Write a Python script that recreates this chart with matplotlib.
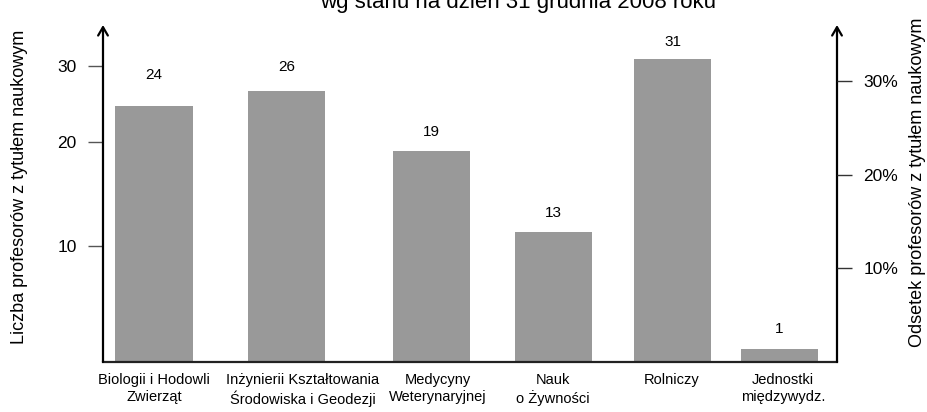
import matplotlib.pyplot as plt

plt.rcParams['font.family'] = ['Liberation Sans', 'DejaVu Sans']

# wydzialy (kategorie)
categories = ['Biologii i Hodowli\nZwierząt',
              'Inżynierii Kształtowania\nŚrodowiska i Geodezji',
              'Medycyny\nWeterynaryjnej',
              'Nauk\no Żywności',
              'Rolniczy',
              'Jednostki\nmiędzywydz.']
# liczba profesorow (etykiety nad slupkami)
counts = [24, 26, 19, 13, 31, 1]
# odsetek profesorow (wysokosc slupkow, %)
percent = [27.4, 29.0, 22.5, 13.9, 32.4, 1.4]
# lewa os - etykiety w miejscach z oryginalu
left_tick_pos = [12.4, 23.5, 31.6]
left_tick_labels = ['10', '20', '30']
right_ticks = [10, 20, 30]
right_tick_labels = ['10%', '20%', '30%']

# uklad (polozenia slupkow i podpisow nie sa rownomierne w oryginale)
bar_x = [0.417, 1.50, 2.686, 3.68, 4.656, 5.527]
label_x = [0.417, 1.63, 2.74, 3.68, 4.65, 5.56]
label_off = [31, 24, 19, 19, 17, 20]

W, H = 927, 412
fig = plt.figure(figsize=(W / 100, H / 100), dpi=100)
ax = fig.add_axes([103 / W, 1 - 362 / H, (837 - 103) / W, (362 - 25) / H])

ax.bar(bar_x, percent, width=0.63, color='#999999', zorder=2)
ax.set_xlim(0, 6)
ax.set_ylim(0, 36)

for x, p, c, off in zip(bar_x, percent, counts, label_off):
    ax.annotate(str(c), (x, p), xytext=(0, off * 0.72), textcoords='offset points',
                ha='center', va='center', fontsize=11)

ax.set_xticks(label_x)
ax.set_xticklabels(categories, fontsize=10.5, linespacing=1.25)
ax.tick_params(axis='x', length=0, pad=8)

ax.set_yticks(left_tick_pos)
ax.set_yticklabels(left_tick_labels, fontsize=12.5)
ax.tick_params(axis='y', length=11, width=1, color='#555555', pad=8)

ax2 = ax.twinx()
ax2.set_ylim(0, 36)
ax2.set_yticks(right_ticks)
ax2.set_yticklabels(right_tick_labels, fontsize=12.5)
ax2.tick_params(axis='y', length=11, width=1, color='#333333', pad=8)

for a in (ax, ax2):
    for s in ('top', 'left', 'right'):
        a.spines[s].set_visible(False)
ax2.spines['bottom'].set_visible(False)
ax.spines['bottom'].set_linewidth(1.6)
ax.spines['bottom'].set_color('#222222')

# osie ze strzalkami
for xa in (0, 1):
    ax.annotate('', xy=(xa, 1.0), xytext=(xa, 0), xycoords='axes fraction',
                arrowprops=dict(arrowstyle='->,head_length=0.6,head_width=0.35',
                                lw=1.6, color='black', shrinkA=0, shrinkB=0))

fig.text(20 / W, 1 - 187 / H, 'Liczba profesorów z tytułem naukowym', rotation=90,
         ha='center', va='center', fontsize=13)
fig.text(918 / W, 1 - 182 / H, 'Odsetek profesorów z tytułem naukowym', rotation=90,
         ha='center', va='center', fontsize=13)
fig.text(518 / W, 1 - 8 / H, 'wg stanu na dzień 31 grudnia 2008 roku',
         ha='center', va='baseline', fontsize=16)

fig.savefig('out.png', dpi=100)
